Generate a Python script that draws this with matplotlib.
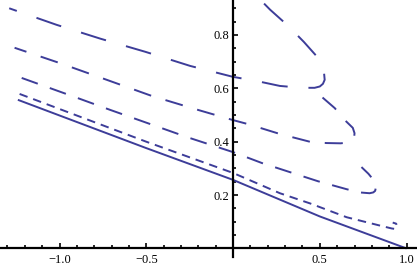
import matplotlib
matplotlib.use("Agg")
import matplotlib.pyplot as plt
from matplotlib.ticker import FixedLocator, MultipleLocator

# curves, listed left to right along each curve
solid_x = [-1.24, -0.5, 0.0, 0.5, 1.0]
solid_y = [0.557, 0.376, 0.257, 0.12, 0.0]

c2_x = [-1.23, -0.5, 0.0, 0.27, 0.443, 0.655, 0.845, 0.914, 0.935, 0.945, 0.94, 0.92]
c2_y = [0.579, 0.40, 0.283, 0.207, 0.169, 0.117, 0.086, 0.075, 0.073, 0.083, 0.093, 0.097]

c3_x = [-1.218, -0.897, -0.707, -0.494, -0.264, 0.0, 0.167, 0.328, 0.489, 0.655,
        0.73, 0.787, 0.808, 0.819, 0.822, 0.818, 0.78, 0.74]
c3_y = [0.639, 0.564, 0.519, 0.470, 0.417, 0.361, 0.320, 0.286, 0.252, 0.222,
        0.21, 0.207, 0.210, 0.216, 0.226, 0.25, 0.28, 0.305]

c4_x = [-1.259, -1.0, -0.741, -0.466, -0.201, 0.0, 0.086, 0.27, 0.454, 0.54, 0.62,
        0.662, 0.686, 0.698, 0.70, 0.69, 0.644, 0.586, 0.506, 0.49]
c4_y = [0.752, 0.695, 0.635, 0.571, 0.519, 0.481, 0.466, 0.429, 0.398, 0.395, 0.394,
        0.397, 0.406, 0.418, 0.432, 0.452, 0.481, 0.526, 0.571, 0.578]

c5_x = [-1.29, -1.017, -0.764, -0.506, -0.247, 0.0, 0.132, 0.27, 0.397, 0.47, 0.50,
        0.518, 0.528, 0.524, 0.50, 0.408, 0.316, 0.213, 0.16]
c5_y = [0.90, 0.838, 0.786, 0.737, 0.684, 0.643, 0.628, 0.609, 0.602, 0.602, 0.607,
        0.617, 0.632, 0.66, 0.707, 0.774, 0.835, 0.895, 0.93]

x_ticks = [-1.0, -0.5, 0.5, 1.0]
x_labels = ["\u22121.0", "\u22120.5", "0.5", "1.0"]
y_ticks = [0.2, 0.4, 0.6, 0.8]
y_labels = ["0.2", "0.4", "0.6", "0.8"]

blue = "#3d3d99"
plt.rcParams["lines.scale_dashes"] = False
plt.rcParams["font.family"] = ["Liberation Serif", "DejaVu Serif"]

fig = plt.figure(figsize=(4.17, 2.68), dpi=100)
ax = fig.add_axes([0, 0.041, 1, 0.955])

lw = 1.4
ax.plot(solid_x, solid_y, color=blue, lw=lw, solid_capstyle="butt")
ax.plot(c2_x, c2_y, color=blue, lw=lw, linestyle=(0, (6.1, 4.3)), dash_capstyle="butt")
ax.plot(c3_x, c3_y, color=blue, lw=lw, linestyle=(0, (12.3, 9.2)), dash_capstyle="butt")
ax.plot(c4_x, c4_y, color=blue, lw=lw, linestyle=(4, (13, 10.8)), dash_capstyle="butt")
ax.plot(c5_x, c5_y, color=blue, lw=lw, linestyle=(13, (18.8, 15)), dash_capstyle="butt")

ax.set_xlim(-1.343, 1.060)
ax.set_ylim(-0.032, 0.927)

# mathematica style axes through the origin
for side in ["top", "right"]:
    ax.spines[side].set_visible(False)
ax.spines["left"].set_position(("data", 0))
ax.spines["bottom"].set_position(("data", 0))
ax.spines["left"].set_linewidth(1.6)
ax.spines["bottom"].set_linewidth(1.6)

ax.xaxis.set_major_locator(FixedLocator(x_ticks))
ax.set_xticklabels(x_labels)
ax.yaxis.set_major_locator(FixedLocator(y_ticks))
ax.set_yticklabels(y_labels)
ax.xaxis.set_minor_locator(MultipleLocator(0.1))
ax.yaxis.set_minor_locator(MultipleLocator(0.05))

ax.tick_params(which="major", direction="in", length=3.5, width=1.2, labelsize=9)
ax.tick_params(which="minor", direction="in", length=2.2, width=1.2)
ax.tick_params(axis="x", which="major", pad=4)
ax.tick_params(axis="y", which="major", pad=3)

ax.patch.set_visible(False)
fig.savefig("out.png", dpi=100)
